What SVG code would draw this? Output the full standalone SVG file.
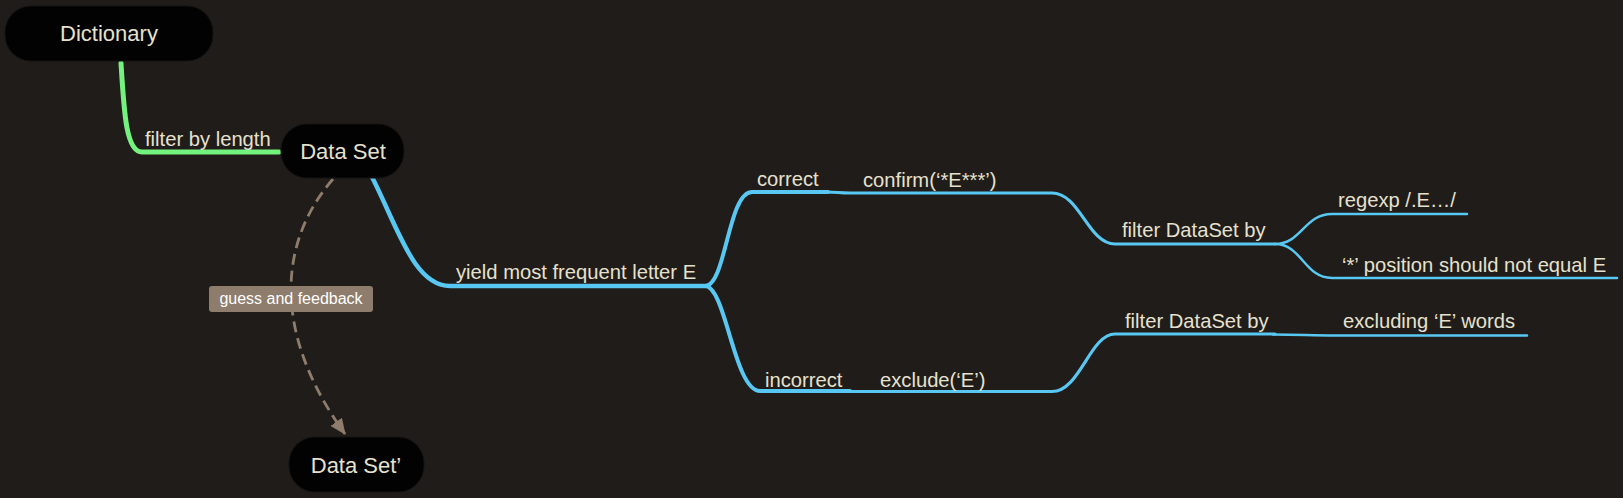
<svg xmlns="http://www.w3.org/2000/svg" width="1623" height="498" viewBox="0 0 1623 498">
<defs>
<style>
.bg{fill:#201c19}
.node{fill:#020202;stroke:#141210;stroke-width:1}
.ntext{font-family:"Liberation Sans",Arial,sans-serif;font-size:22px;fill:#e6e1cf;text-anchor:middle}
.lbl{font-family:"Liberation Sans",Arial,sans-serif;font-size:20.2px;fill:#e6e1cf}
.blue{fill:none;stroke:#58c8f2;stroke-linecap:round;stroke-linejoin:round}
.green{fill:none;stroke:#74f27e;stroke-width:5;stroke-linecap:round}
.dash{fill:none;stroke:#8e7d6c;stroke-width:2.8;stroke-dasharray:11 6}
</style>
<marker id="arr" viewBox="0 0 16 14" refX="15" refY="7" markerWidth="16" markerHeight="14" orient="auto" markerUnits="userSpaceOnUse">
<path d="M0,0 L16,7 L0,14 z" fill="#8e7d6c"/>
</marker>
</defs>
<rect class="bg" x="0" y="0" width="1623" height="498"/>
<g id="connectors">
<path class="green" d="M121,63 C124,112 126,152 142,152 L279,152"/>
<path class="blue" stroke-width="4.5" d="M372,177 C398,228 414,286 450,286 L705,286"/>
<path class="blue" stroke-width="4" d="M705,286 C726,286 728,192 752,192 L828,192"/>
<path class="blue" stroke-width="4" d="M705,286 C726,286 734,391 760,391 L850,391"/>
<path class="blue" stroke-width="3.2" d="M826,192 C838,192 838,193 850,193 L1052,193 C1080,193 1088,244 1115,244 L1275,244"/>
<path class="blue" stroke-width="3.2" d="M848,391.5 L1052,391.5 C1080,391.5 1090,334 1115,334 L1275,334"/>
<path class="blue" stroke-width="2.5" d="M1275,244 C1302,244 1304,214 1332,214 L1467,214"/>
<path class="blue" stroke-width="2.5" d="M1275,244 C1302,244 1304,278 1332,278 L1617,278"/>
<path class="blue" stroke-width="2.5" d="M1273,334.5 C1300,334.5 1310,335.5 1335,335.5 L1527,335.5"/>
<path class="dash" d="M333,179 C280,240 270,330 345,434" marker-end="url(#arr)"/>
<g id="edge-labels">
<text class="lbl" x="145" y="146">filter by length</text>
<text class="lbl" x="456" y="279">yield most frequent letter E</text>
<text class="lbl" x="757" y="186">correct</text>
<text class="lbl" x="863" y="187">confirm(‘*E***’)</text>
<text class="lbl" x="765" y="387">incorrect</text>
<text class="lbl" x="880" y="387">exclude(‘E’)</text>
<text class="lbl" x="1122" y="237">filter DataSet by</text>
<text class="lbl" x="1338" y="207">regexp /.E…/</text>
<text class="lbl" x="1342" y="272">‘*’ position should not equal E</text>
<text class="lbl" x="1125" y="328">filter DataSet by</text>
<text class="lbl" x="1343" y="328">excluding ‘E’ words</text>
<rect x="209" y="286" width="164" height="26" rx="3" fill="#8e7d6c"/>
<text x="291" y="304" font-family="Liberation Sans, Arial, sans-serif" font-size="16" fill="#ffffff" text-anchor="middle">guess and feedback</text>
</g>
</g>
<g id="node-dictionary">
<rect class="node" x="5" y="6" width="208" height="55" rx="26"/>
<text class="ntext" x="109" y="41">Dictionary</text>
</g>
<g id="node-dataset">
<rect class="node" x="281" y="124" width="123" height="54" rx="26"/>
<text class="ntext" x="343" y="159">Data Set</text>
</g>
<g id="node-dataset2">
<rect class="node" x="289" y="437" width="135" height="55" rx="26"/>
<text class="ntext" x="356" y="473" fill="#f6f2e2">Data Set’</text>
</g>
</svg>
